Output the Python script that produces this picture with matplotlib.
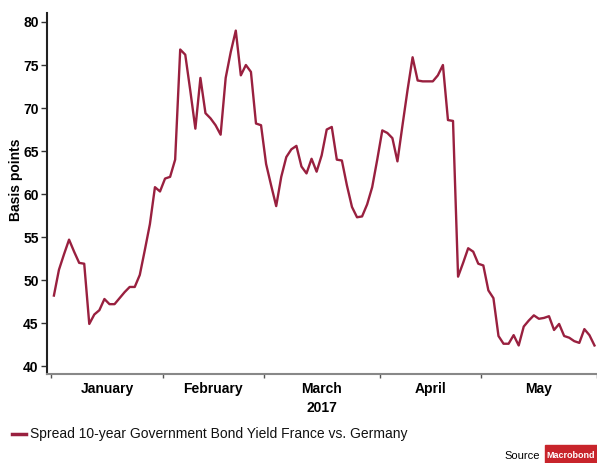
import matplotlib
matplotlib.use("Agg")
import matplotlib.pyplot as plt
import matplotlib.transforms as mtransforms
from matplotlib.patches import Rectangle
import numpy as np
import pandas as pd

# ----- Data: France-Germany 10y spread, business days Jan-May 2017 -----
dates = pd.bdate_range("2017-01-02", "2017-05-31")
spread = [
    48.2, 51.2, 53.0, 54.7, 53.3, 52.0, 51.9, 44.9, 46.0, 46.5,
    47.8, 47.2, 47.2, 47.9, 48.6, 49.2, 49.2, 50.6, 53.5, 56.5,
    60.8, 60.3, 61.8, 62.0, 64.0, 76.8, 76.2, 72.0, 67.6, 73.5,
    69.4, 68.8, 68.0, 66.9, 73.5, 76.5, 79.0, 73.8, 75.0, 74.2,
    68.2, 68.0, 63.5, 61.0, 58.6, 62.0, 64.3, 65.2, 65.6, 63.2,
    62.4, 64.1, 62.6, 64.5, 67.5, 67.8, 64.0, 63.9, 61.0, 58.5,
    57.3, 57.4, 58.8, 60.8, 64.0, 67.4, 67.1, 66.5, 63.8, 68.0,
    72.1, 75.9, 73.2, 73.1, 73.1, 73.1, 73.8, 75.0, 68.6, 68.5,
    50.4, 52.0, 53.7, 53.3, 51.9, 51.7, 48.8, 47.9, 43.5, 42.6,
    42.6, 43.6, 42.4, 44.6, 45.3, 45.9, 45.5, 45.6, 45.8, 44.2,
    44.9, 43.5, 43.3, 42.9, 42.7, 44.3, 43.6, 42.4,
]
month_names = ["January", "February", "March", "April", "May"]
y_ticks = [40, 45, 50, 55, 60, 65, 70, 75, 80]
series_label = "Spread 10-year Government Bond Yield France vs. Germany"

line_color = "#99203f"
plt.rcParams["font.family"] = ["Liberation Sans", "DejaVu Sans"]

# business-day index as x, month boundaries between days
x = np.arange(len(dates))
months = dates.month
starts = [int(np.argmax(months == m)) for m in range(1, 6)]
bounds = [s - 0.5 for s in starts] + [len(dates) - 0.5]
centers = [(bounds[k] + bounds[k + 1]) / 2 for k in range(5)]

fig = plt.figure(figsize=(5.97, 4.63), dpi=100)
ax = fig.add_axes([0.0787, 0.192, 0.9213, 0.780])

ax.plot(x, spread, color=line_color, linewidth=1.7)

ax.set_xlim(-1.37, 107.1)
ax.set_ylim(39.07, 81.05)

ax.set_yticks(y_ticks)
ax.set_yticklabels([str(v) for v in y_ticks], fontweight="bold", fontsize=10)
ax.tick_params(axis="y", length=4, width=1, color="#333333", pad=2)

ax.set_xticks(bounds)
ax.set_xticklabels([])
ax.tick_params(axis="x", which="major", length=3, width=1, color="#555555")
ax.set_xticks(centers, minor=True)
ax.set_xticklabels(month_names, minor=True, fontweight="bold", fontsize=10)
ax.tick_params(axis="x", which="minor", length=0, pad=6)

trans = mtransforms.blended_transform_factory(ax.transData, ax.transAxes)
ax.text(centers[2], -0.075, "2017", transform=trans, ha="center", va="top",
        fontweight="bold", fontsize=10)

ax.set_ylabel("Basis points", fontweight="bold", fontsize=10)
ax.yaxis.set_label_coords(-0.056, 0.537)
ax.yaxis.label.set_va("center")

for side in ["top", "right"]:
    ax.spines[side].set_visible(False)
ax.spines["left"].set_color("#222222")
ax.spines["left"].set_linewidth(1.5)
ax.spines["bottom"].set_color("#888888")
ax.spines["bottom"].set_linewidth(1.5)

# legend row
fig.lines.append(plt.Line2D([12 / 597, 26 / 597], [1 - 434 / 463] * 2,
                            color=line_color, linewidth=2.5,
                            transform=fig.transFigure))
fig.text(30 / 597, 1 - 434 / 463, series_label, fontsize=10, va="center",
         ha="left", color="#111111")

# source + logo
fig.text(540 / 597, 1 - 456 / 463, "Source", fontsize=8, va="center", ha="right")
fig.patches.append(Rectangle((545 / 597, 0), 60 / 597, 18 / 463,
                             transform=fig.transFigure, color="#c8242b"))
fig.text(571 / 597, 1 - 455 / 463, "Macrobond", fontsize=6.5, fontweight="bold",
         color="white", va="center", ha="center")

fig.savefig("out.png", dpi=100)
